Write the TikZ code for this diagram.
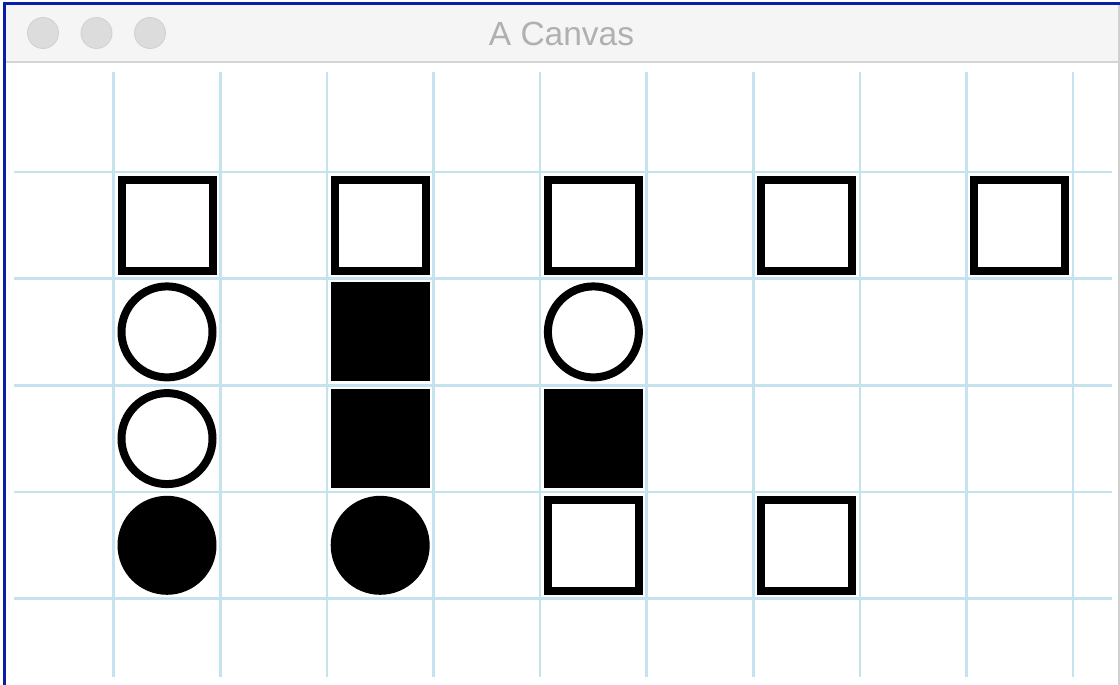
\documentclass[tikz,border=0pt]{standalone}
\usepackage{fontspec}
\setmainfont{Liberation Sans}
\definecolor{winblue}{RGB}{10,28,170}
\definecolor{titlebg}{RGB}{245,245,245}
\definecolor{sepgray}{RGB}{212,212,212}
\definecolor{lightgray}{RGB}{220,220,220}
\definecolor{lightborder}{RGB}{208,208,208}
\definecolor{gridblue}{RGB}{197,227,238}
\definecolor{titlegray}{RGB}{176,176,176}
\begin{document}
\begin{tikzpicture}[x=1pt,y=-1pt,
  gridline/.style={draw=gridblue,line width=2.6pt},
  osq/.style={draw=black,line width=8pt,fill=white,rectangle,minimum size=91pt,inner sep=0pt},
  fsq/.style={fill=black,rectangle,minimum size=99pt,inner sep=0pt},
  ocirc/.style={draw=black,line width=8pt,fill=white,circle,minimum size=91pt,inner sep=0pt},
  fcirc/.style={fill=black,circle,minimum size=99pt,inner sep=0pt},
  light/.style={circle,fill=lightgray,draw=lightborder,line width=0.8pt,minimum size=31pt,inner sep=0pt}]
\useasboundingbox (0,0) rectangle (1120,685);
\fill[white] (0,0) rectangle (1120,685);
% title bar
\fill[titlebg] (5,5) rectangle (1118,61);
\draw[sepgray,line width=2pt] (5,62) -- (1118,62);
\draw[lightborder,line width=1.2pt] (1119,4) -- (1119,685);
\draw[winblue,line width=2.8pt] (4.8,685) -- (4.8,3.8) -- (1120,3.8);
\node[light] (l1) at (43,33) {};
\node[light] (l2) at (96.5,33) {};
\node[light] (l3) at (150,33) {};
\node[anchor=base,text=titlegray,font=\fontsize{33.5}{40}\selectfont,inner sep=0pt] (title) at (561.5,46) {A Canvas};
% grid
\foreach \k in {0,...,9}{
  \draw[gridline] ({113.7+106.6*\k},72) -- ({113.7+106.6*\k},677);
}
\foreach \k in {0,...,4}{
  \draw[gridline] (14,{171.8+106.7*\k}) -- (1112,{171.8+106.7*\k});
}
% row 1
\node[osq] (a0) at (167,225.2) {};
\node[osq] (a2) at (380.2,225.2) {};
\node[osq] (a4) at (593.4,225.2) {};
\node[osq] (a6) at (806.6,225.2) {};
\node[osq] (a8) at (1019.8,225.2) {};
% row 2
\node[ocirc] (b0) at (167,331.9) {};
\node[fsq] (b2) at (380.2,331.9) {};
\node[ocirc] (b4) at (593.4,331.9) {};
% row 3
\node[ocirc] (c0) at (167,438.6) {};
\node[fsq] (c2) at (380.2,438.6) {};
\node[fsq] (c4) at (593.4,438.6) {};
% row 4
\node[fcirc] (d0) at (167,545.3) {};
\node[fcirc] (d2) at (380.2,545.3) {};
\node[osq] (d4) at (593.4,545.3) {};
\node[osq] (d6) at (806.6,545.3) {};
\end{tikzpicture}
\end{document}
